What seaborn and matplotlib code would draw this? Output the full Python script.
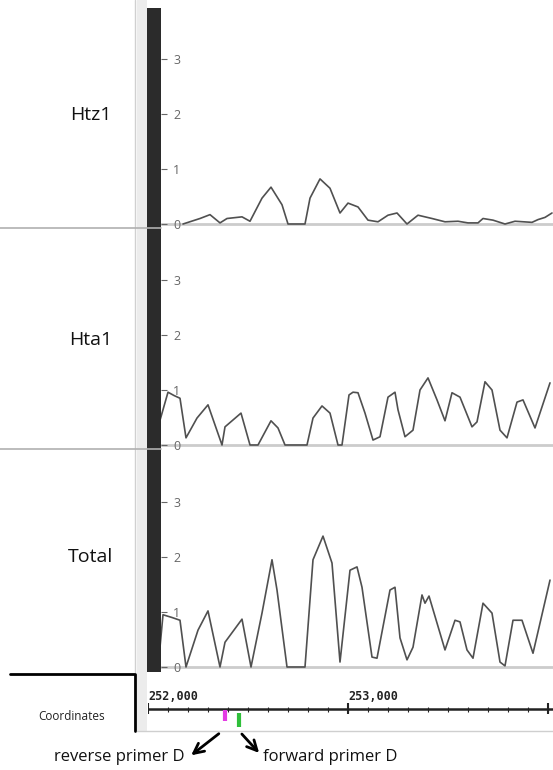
import numpy as np
import pandas as pd
import seaborn as sns
import matplotlib.pyplot as plt

# ChIP signal tracks, positions in bp
htz1_pos = [252175, 252260, 252310, 252360, 252395, 252470, 252510, 252570, 252615, 252670,
            252700, 252785, 252810, 252860, 252910, 252960, 253000, 253050, 253100, 253150,
            253200, 253245, 253295, 253350, 253420, 253485, 253550, 253600, 253650, 253675,
            253725, 253785, 253835, 253920, 253950, 253985, 254020]
htz1_val = [0, 0.1, 0.17, 0.02, 0.1, 0.13, 0.05, 0.47, 0.67, 0.35,
            0, 0, 0.47, 0.82, 0.65, 0.2, 0.38, 0.31, 0.07, 0.04,
            0.16, 0.2, 0, 0.16, 0.1, 0.04, 0.05, 0.02, 0.02, 0.1,
            0.07, 0, 0.05, 0.03, 0.08, 0.12, 0.2]

hta1_pos = [252060, 252100, 252130, 252160, 252190, 252245, 252300, 252370, 252385, 252465,
            252510, 252550, 252615, 252650, 252685, 252795, 252825, 252870, 252910, 252950,
            252970, 253005, 253025, 253050, 253085, 253125, 253160, 253200, 253235, 253250,
            253285, 253325, 253360, 253400, 253445, 253485, 253520, 253560, 253620, 253645,
            253685, 253720, 253760, 253795, 253845, 253875, 253935, 254010]
hta1_val = [0.45, 0.96, 0.9, 0.85, 0.13, 0.49, 0.73, 0, 0.33, 0.58,
            0, 0, 0.44, 0.31, 0, 0, 0.49, 0.71, 0.58, 0,
            0, 0.91, 0.96, 0.95, 0.58, 0.09, 0.15, 0.87, 0.96, 0.64,
            0.15, 0.27, 1.0, 1.22, 0.82, 0.44, 0.95, 0.87, 0.33, 0.42,
            1.15, 1.0, 0.27, 0.13, 0.78, 0.82, 0.31, 1.13]

total_pos = [252060, 252075, 252120, 252160, 252190, 252250, 252300, 252360, 252385, 252470,
             252515, 252570, 252620, 252645, 252695, 252785, 252825, 252875, 252920, 252960,
             253010, 253045, 253070, 253120, 253145, 253210, 253235, 253260, 253295, 253325,
             253370, 253385, 253405, 253485, 253535, 253560, 253595, 253625, 253675, 253720,
             253760, 253785, 253825, 253870, 253925, 254010]
total_val = [0.36, 0.95, 0.9, 0.85, 0, 0.67, 1.02, 0, 0.45, 0.87,
             0, 0.98, 1.95, 1.4, 0, 0, 1.95, 2.38, 1.89, 0.09,
             1.76, 1.82, 1.45, 0.18, 0.16, 1.4, 1.45, 0.53, 0.13, 0.36,
             1.31, 1.16, 1.29, 0.31, 0.85, 0.82, 0.31, 0.16, 1.16, 0.98,
             0.09, 0.02, 0.85, 0.85, 0.25, 1.58]

track_names = ["Htz1", "Hta1", "Total"]
y_ticks = [0, 1, 2, 3]
ruler_major = [252000, 253000, 254000]
ruler_labels = ["252,000", "253,000"]
primer_names = ["reverse primer D", "forward primer D"]
primer_pos = [252385, 252455]
primer_colors = ["#e33be3", "#2fbf3a"]

W, H = 553, 770


def box(x0, y0, x1, y1):
    # pixel box -> figure fraction
    return [x0 / W, 1 - y1 / H, (x1 - x0) / W, (y1 - y0) / H]


sns.set_style("white")
plt.rcParams['font.family'] = ['Open Sans', 'DejaVu Sans']

fig = plt.figure(figsize=(W / 100, H / 100), dpi=100)

# background layer in pixel coords
bg = fig.add_axes([0, 0, 1, 1], zorder=0)
bg.set_xlim(0, W)
bg.set_ylim(H, 0)
bg.axis('off')
bg.add_patch(plt.Rectangle((137, 0), 10, 731, color='#ececec', lw=0))
bg.add_patch(plt.Rectangle((147, 8), 14, 664, color='#2b2b2b', lw=0))
bg.plot([135, 135], [0, 672], color='#d0d0d0', lw=1)
for yy in [228, 449]:
    bg.plot([0, 161], [yy, yy], color='#b0b0b0', lw=1.2)
bg.plot([10, 135, 135], [674, 674, 731], color='black', lw=2)
bg.plot([137, W], [731, 731], color='#cfcfcf', lw=1)
label_y = [115, 340, 557]
for name, ly in zip(track_names, label_y):
    bg.text(91, ly, name, ha='center', va='center', fontsize=14, color='#111')
bg.text(72, 716, "Coordinates", ha='center', va='center', fontsize=8.5, color='#222')

# signal tracks
series = [(htz1_pos, htz1_val), (hta1_pos, hta1_val), (total_pos, total_val)]
track_px = [(5, 228, 224), (228, 449, 445), (449, 672, 667)]
x_left = 252000 + (161 - 148) * 5
x_right = 252000 + (W - 148) * 5
for (pos, val), (top, bot, base) in zip(series, track_px):
    ax = fig.add_axes(box(161, top, W, bot), zorder=2)
    ax.patch.set_alpha(0)
    df = pd.DataFrame({"pos": pos, "signal": val})
    ax.axhline(0, color='#cccccc', lw=2, zorder=0)
    sns.lineplot(data=df, x="pos", y="signal", ax=ax, color='#505050', lw=1.2)
    ax.set_xlim(x_left, x_right)
    ax.set_ylim(-(bot - base) / 55, (base - top) / 55)
    ax.set_yticks(y_ticks)
    ax.set_yticklabels([str(t) for t in y_ticks])
    ax.tick_params(axis='y', left=True, direction='in', length=4, pad=-14,
                   labelsize=9, colors='#666')
    ax.set_xticks([])
    ax.set_xlabel("")
    ax.set_ylabel("")
    for s in ax.spines.values():
        s.set_visible(False)

# coordinate ruler
cx = fig.add_axes(box(148, 676, W, 731), zorder=2)
cx.patch.set_alpha(0)
cx.set_xlim(252000, x_right)
cx.set_ylim(731, 676)
cx.axis('off')
cx.hlines(709, 252000, x_right, color='#222', lw=1.8)
cx.vlines(np.arange(252100, x_right, 100), 706.5, 711.5, color='#222', lw=0.8)
cx.vlines(ruler_major, 703, 714, color='#222', lw=1.5)
for p, lab in zip(ruler_major, ruler_labels):
    cx.text(p, 697, lab, ha='left', va='center', fontsize=8.5, fontweight='bold',
            family='DejaVu Sans Mono', color='#222')
cx.vlines(primer_pos[0], 710, 721, color=primer_colors[0], lw=3)
cx.vlines(primer_pos[1], 713, 727, color=primer_colors[1], lw=3)

# primer annotations
bg.annotate("", xy=(189, 757), xytext=(221, 732),
            arrowprops=dict(arrowstyle='->', lw=2, color='black', mutation_scale=18))
bg.annotate("", xy=(261, 755), xytext=(240, 732),
            arrowprops=dict(arrowstyle='->', lw=2, color='black', mutation_scale=18))
bg.text(185, 757, primer_names[0], ha='right', va='center', fontsize=12, color='#111')
bg.text(263, 757, primer_names[1], ha='left', va='center', fontsize=12, color='#111')

fig.savefig("out.png", dpi=100, facecolor='white')
